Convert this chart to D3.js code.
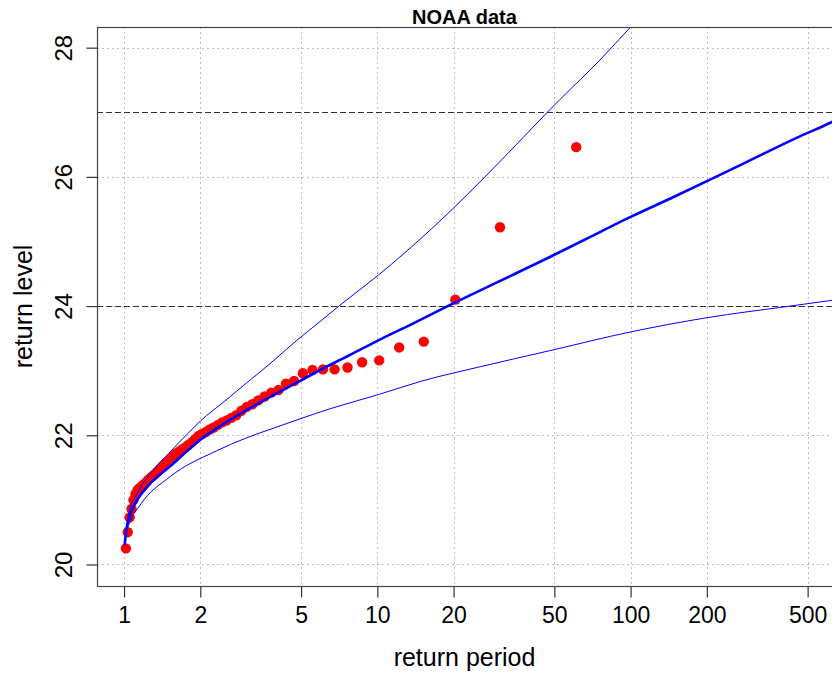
<!DOCTYPE html>
<html>
<head>
<meta charset="utf-8">
<script src="https://cdn.jsdelivr.net/npm/d3@7"></script>
<style>
  html, body { margin: 0; padding: 0; background: #fff; }
  svg { display: block; font-family: "Liberation Sans", Arial, sans-serif; }
</style>
</head>
<body>
<svg id="chart" width="832" height="674"></svg>
<script>
// Empirical annual maxima: return period (years) and observed level
const obsPeriod = [61, 30.5, 20.33, 15.25, 12.2, 10.17, 8.71, 7.625, 6.78, 6.1,
  5.545, 5.083, 4.692, 4.357, 4.067, 3.8125, 3.588, 3.389, 3.21, 3.05,
  2.905, 2.773, 2.652, 2.542, 2.44, 2.346, 2.259, 2.179, 2.103, 2.033,
  1.968, 1.906, 1.848, 1.794, 1.743, 1.694, 1.649, 1.605, 1.564, 1.525,
  1.488, 1.452, 1.419, 1.386, 1.356, 1.326, 1.298, 1.271, 1.245, 1.22,
  1.196, 1.173, 1.151, 1.13, 1.109, 1.089, 1.07, 1.052, 1.034, 1.017];
const obsLevel = [26.46, 25.22, 24.10, 23.45, 23.36, 23.16, 23.13, 23.05, 23.02, 23.02,
  23.01, 22.96, 22.84, 22.80, 22.70, 22.66, 22.60, 22.54, 22.48, 22.44,
  22.38, 22.31, 22.27, 22.23, 22.20, 22.16, 22.12, 22.09, 22.05, 22.02,
  21.99, 21.94, 21.89, 21.85, 21.81, 21.78, 21.75, 21.72, 21.68, 21.64,
  21.59, 21.56, 21.52, 21.48, 21.44, 21.40, 21.37, 21.34, 21.31, 21.27,
  21.24, 21.21, 21.18, 21.15, 21.09, 21.00, 20.86, 20.73, 20.50, 20.25];

// Fitted return level curve
const fitPeriod = [1.005, 1.02, 1.056, 1.12, 1.267, 1.52, 2.0, 2.6, 3.45, 5.0, 5.94, 7.5,
  10.1, 14, 20.4, 25.4, 35, 48, 70, 100, 150, 217, 320, 450, 624, 700];
const fitLevel = [20.30, 20.52, 20.77, 20.98, 21.25, 21.52, 21.93, 22.23, 22.51, 22.85, 23.01, 23.21,
  23.47, 23.74, 24.06, 24.24, 24.50, 24.76, 25.08, 25.38, 25.70, 26.00, 26.32, 26.60, 26.85, 26.95];

// Upper confidence bound
const upPeriod = [1.005, 1.02, 1.05, 1.12, 1.305, 1.5, 1.82, 2.0, 2.5, 2.96, 3.8, 4.81, 5.94, 7.1,
  10.1, 16.1, 25.4, 35, 46.9, 52.7, 75.7, 100, 120];
const upLevel = [20.30, 20.56, 20.83, 21.08, 21.46, 21.72, 22.06, 22.22, 22.53, 22.77, 23.12, 23.47, 23.76, 24.01,
  24.48, 25.17, 25.92, 26.48, 27.00, 27.20, 27.81, 28.32, 28.65];

// Lower confidence bound
const loPeriod = [1.005, 1.02, 1.056, 1.157, 1.52, 2.32, 3.0, 3.89, 5.0, 6.5, 8.25, 10.1,
  15, 25.4, 48, 100, 200, 426, 624, 700];
const loLevel = [20.30, 20.48, 20.66, 20.92, 21.36, 21.76, 21.95, 22.11, 22.26, 22.41, 22.53, 22.63,
  22.84, 23.06, 23.31, 23.60, 23.82, 24.00, 24.09, 24.12];

// Reference levels drawn as dashed horizontals
const refLevels = [24, 27];

// Axis ticks
const xTicks = [1, 2, 5, 10, 20, 50, 100, 200, 500];
const yTicks = [20, 22, 24, 26, 28];
const xDomain = [0.782, 624];
const yDomain = [19.667, 28.32];

const svg = d3.select("#chart");
const plot = { left: 97, right: 832, top: 27, bottom: 586 };

const x = d3.scaleLog().domain(xDomain).range([plot.left, plot.right]);
const y = d3.scaleLinear().domain(yDomain).range([plot.bottom, plot.top]);

svg.append("defs").append("clipPath").attr("id", "plotclip")
  .append("rect")
  .attr("x", plot.left).attr("y", plot.top)
  .attr("width", plot.right - plot.left).attr("height", plot.bottom - plot.top);

// Dotted grid
const grid = svg.append("g").attr("stroke", "#bdbdbd").attr("stroke-width", 1)
  .attr("stroke-dasharray", "2,3");
grid.selectAll("line.gx").data(xTicks).join("line")
  .attr("x1", d => Math.round(x(d)) + 0.5).attr("x2", d => Math.round(x(d)) + 0.5)
  .attr("y1", plot.top).attr("y2", plot.bottom);
grid.selectAll("line.gy").data(yTicks).join("line")
  .attr("y1", d => Math.round(y(d)) + 0.5).attr("y2", d => Math.round(y(d)) + 0.5)
  .attr("x1", plot.left).attr("x2", plot.right);

// Dashed reference levels
svg.append("g").attr("stroke", "#333").attr("stroke-width", 1.2)
  .attr("stroke-dasharray", "6,3")
  .selectAll("line").data(refLevels).join("line")
  .attr("x1", plot.left).attr("x2", plot.right)
  .attr("y1", d => Math.round(y(d)) + 0.5).attr("y2", d => Math.round(y(d)) + 0.5);

const line = d3.line().x(d => x(d[0])).y(d => y(d[1])).curve(d3.curveMonotoneX);
const g = svg.append("g").attr("clip-path", "url(#plotclip)");

// Observed points
g.append("g").attr("fill", "#ff0000")
  .selectAll("circle").data(d3.zip(obsPeriod, obsLevel)).join("circle")
  .attr("cx", d => x(d[0])).attr("cy", d => y(d[1])).attr("r", 5.2);

// Confidence bounds
g.append("path").datum(d3.zip(upPeriod, upLevel))
  .attr("fill", "none").attr("stroke", "#0000ff").attr("stroke-width", 1).attr("d", line);
g.append("path").datum(d3.zip(loPeriod, loLevel))
  .attr("fill", "none").attr("stroke", "#0000ff").attr("stroke-width", 1).attr("d", line);

// Fitted curve
g.append("path").datum(d3.zip(fitPeriod, fitLevel))
  .attr("fill", "none").attr("stroke", "#0000ff").attr("stroke-width", 2.6).attr("d", line);

// Plot frame
svg.append("rect")
  .attr("x", plot.left + 0.5).attr("y", plot.top + 0.5)
  .attr("width", plot.right - plot.left + 2).attr("height", plot.bottom - plot.top)
  .attr("fill", "none").attr("stroke", "#444").attr("stroke-width", 1.2);

// Axes
const xAxis = d3.axisBottom(x).tickValues(xTicks).tickFormat(d3.format("d"))
  .tickSize(11).tickPadding(9);
const xg = svg.append("g").attr("transform", `translate(0,${plot.bottom + 0.5})`).call(xAxis);
xg.select(".domain").remove();
xg.selectAll(".tick line").attr("stroke", "#333").attr("stroke-width", 1.2);
xg.selectAll(".tick text").attr("font-size", 23).attr("fill", "#000")
  .attr("font-family", "Liberation Sans, Arial, sans-serif");

const yAxis = d3.axisLeft(y).tickValues(yTicks).tickFormat(d3.format("d"))
  .tickSize(11);
const yg = svg.append("g").attr("transform", `translate(${plot.left + 0.5},0)`).call(yAxis);
yg.select(".domain").remove();
yg.selectAll(".tick line").attr("stroke", "#333").attr("stroke-width", 1.2);
yg.selectAll(".tick text").remove();
yg.selectAll(".tick").append("text")
  .attr("transform", "translate(-26,0) rotate(-90)")
  .attr("text-anchor", "middle")
  .attr("font-size", 24).attr("fill", "#000")
  .attr("font-family", "Liberation Sans, Arial, sans-serif")
  .text(d => d);

// Titles
svg.append("text").attr("x", (plot.left + plot.right) / 2).attr("y", 24)
  .attr("text-anchor", "middle").attr("font-weight", "bold").attr("font-size", 20)
  .text("NOAA data");
svg.append("text").attr("x", (plot.left + plot.right) / 2).attr("y", 666)
  .attr("text-anchor", "middle").attr("font-size", 25)
  .text("return period");
svg.append("text").attr("transform", `translate(32,${(plot.top + plot.bottom) / 2}) rotate(-90)`)
  .attr("text-anchor", "middle").attr("font-size", 25)
  .text("return level");
</script>
</body>
</html>
